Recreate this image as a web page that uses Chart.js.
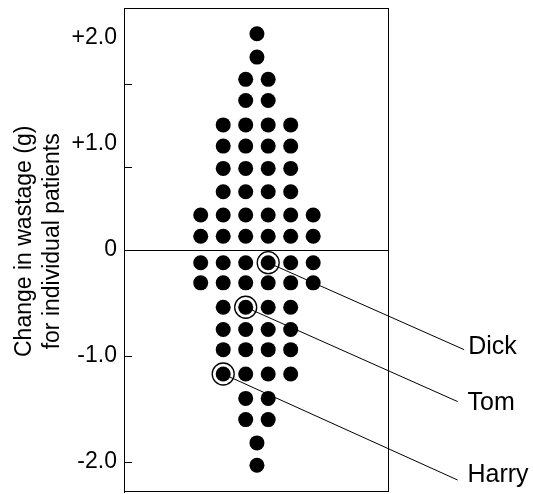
<!DOCTYPE html>
<html>
<head>
<meta charset="utf-8">
<script src="https://cdn.jsdelivr.net/npm/chart.js@4"></script>
<style>
  body { margin: 0; background: #fff; }
  canvas { display: block; }
</style>
</head>
<body>
<canvas id="chart" width="533" height="494"></canvas>
<script>
// one entry per row of dots, top to bottom
const rowValues = [2.04, 1.82, 1.61, 1.41, 1.18, 0.98, 0.77, 0.55, 0.33, 0.13,
                   -0.12, -0.31, -0.54, -0.75, -0.94, -1.17, -1.40, -1.60, -1.82, -2.03];
const rowColumns = [
  [0], [0], [-0.5, 0.5], [-0.5, 0.5],
  [-1.5, -0.5, 0.5, 1.5], [-1.5, -0.5, 0.5, 1.5], [-1.5, -0.5, 0.5, 1.5], [-1.5, -0.5, 0.5, 1.5],
  [-2.5, -1.5, -0.5, 0.5, 1.5, 2.5], [-2.5, -1.5, -0.5, 0.5, 1.5, 2.5],
  [-2.5, -1.5, -0.5, 0.5, 1.5, 2.5], [-2.5, -1.5, -0.5, 0.5, 1.5, 2.5],
  [-1.5, -0.5, 0.5, 1.5], [-1.5, -0.5, 0.5, 1.5], [-1.5, -0.5, 0.5, 1.5], [-1.5, -0.5, 0.5, 1.5],
  [-0.5, 0.5], [-0.5, 0.5], [0], [0]
];

// the three named patients
const patientNames = ['Dick', 'Tom', 'Harry'];
const patientX = [0.5, -0.5, -1.5];
const patientY = [-0.12, -0.54, -1.17];
const leaderEndX = [9.21, 8.92, 8.92];
const leaderEndY = [-0.94, -1.43, -2.17];
const labelX = [9.39, 9.36, 9.36];
const labelY = [-0.92, -1.44, -2.12];

// y axis
const tickValues = [-2, -1, 0, 1, 2];
const tickLabels = ['-2.0', '-1.0', '0', '+1.0', '+2.0'];
const tickMarkValues = [1.57, 0.78, -1, -2];
// leading spaces nudge the centred title up a little, as in the original
const axisTitle = ['\u00A0\u00A0\u2009Change in wastage (g)', '\u00A0\u00A0\u2009for individual patients'];

const FONT = '"Liberation Sans", Arial, sans-serif';

const dots = [];
rowValues.forEach((v, i) => {
  rowColumns[i].forEach(c => dots.push({ x: c, y: v }));
});

const datasets = [];
patientNames.forEach((name, i) => {
  datasets.push({
    label: name + ' line',
    data: [{ x: patientX[i], y: patientY[i] }, { x: leaderEndX[i], y: leaderEndY[i] }],
    showLine: true,
    borderColor: '#000',
    borderWidth: 1,
    pointRadius: 0,
    clip: false
  });
});
datasets.push({
  label: 'patients',
  data: dots,
  backgroundColor: '#000',
  borderWidth: 0,
  pointRadius: 7.5
});
datasets.push({
  label: 'named',
  data: patientNames.map((n, i) => ({ x: patientX[i], y: patientY[i] })),
  backgroundColor: 'rgba(0,0,0,0)',
  borderColor: '#000',
  borderWidth: 1.3,
  pointRadius: 11
});

const framePlugin = {
  id: 'frame',
  afterDatasetsDraw(chart) {
    const { ctx, chartArea: a, scales } = chart;
    ctx.save();
    ctx.strokeStyle = '#000';
    ctx.lineWidth = 1;
    ctx.strokeRect(a.left + 0.5, a.top + 0.5, a.right - a.left - 1, a.bottom - a.top - 1);
    // small inward tick marks
    tickMarkValues.forEach(v => {
      const y = Math.round(scales.y.getPixelForValue(v)) + 0.5;
      ctx.beginPath();
      ctx.moveTo(a.left, y);
      ctx.lineTo(a.left + 8, y);
      ctx.stroke();
    });
    // patient names
    ctx.fillStyle = '#000';
    ctx.font = '25px ' + FONT;
    ctx.textAlign = 'left';
    ctx.textBaseline = 'middle';
    patientNames.forEach((name, i) => {
      ctx.fillText(name, scales.x.getPixelForValue(labelX[i]), scales.y.getPixelForValue(labelY[i]));
    });
    ctx.restore();
  }
};

new Chart(document.getElementById('chart'), {
  type: 'scatter',
  data: { datasets },
  options: {
    responsive: false,
    animation: false,
    layout: { autoPadding: false, padding: { left: 0, right: 144, top: 8, bottom: 2 } },
    plugins: { legend: { display: false }, tooltip: { enabled: false } },
    scales: {
      x: { display: false, min: -5.91, max: 5.87 },
      y: {
        min: -2.283,
        max: 2.283,
        afterBuildTicks(scale) {
          scale.ticks = tickValues.map(v => ({ value: v }));
        },
        afterFit(scale) {
          scale.width = 124;
          scale.paddingTop = 0;
          scale.paddingBottom = 0;
        },
        ticks: {
          padding: 7,
          color: '#000',
          font: { family: FONT, size: 23 },
          callback: (v) => tickLabels[tickValues.indexOf(v)]
        },
        grid: {
          drawTicks: false,
          lineWidth: 1,
          color: (c) => (c.tick && c.tick.value === 0 ? '#000' : 'rgba(0,0,0,0)')
        },
        border: { display: true, color: '#000', width: 1 },
        title: {
          display: true,
          text: axisTitle,
          color: '#000',
          font: { family: FONT, size: 23 },
          padding: { top: 11, bottom: 0 }
        }
      }
    }
  },
  plugins: [framePlugin]
});
</script>
</body>
</html>
